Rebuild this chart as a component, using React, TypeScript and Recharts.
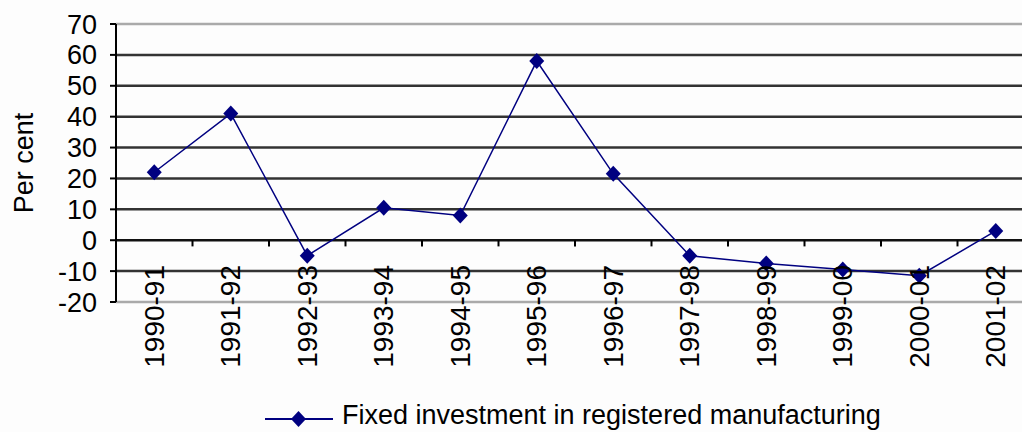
import React from 'react';
import { LineChart, Line, XAxis, YAxis, CartesianGrid, ReferenceLine, Legend } from 'recharts';

const categories = ['1990-91', '1991-92', '1992-93', '1993-94', '1994-95', '1995-96', '1996-97', '1997-98', '1998-99', '1999-00', '2000-01', '2001-02'];
const investment = [22, 41, -5, 10.5, 8, 58, 21.5, -5, -7.5, -9.5, -11.5, 3];
const yTicks = [-20, -10, 0, 10, 20, 30, 40, 50, 60, 70];
const innerGrid = [-10, 10, 20, 30, 40, 50, 60];
const seriesName = 'Fixed investment in registered manufacturing';

const data = categories.map((c, i) => ({ idx: i, name: c, value: investment[i] }));
const xTicks = categories.map((_, i) => i);
const boundaries = categories.slice(1).map((_, i) => i + 0.5);

const FONT = '"Liberation Sans", Arial, sans-serif';
const NAVY = '#000080';

const Diamond = (props: any) => {
  const { cx, cy } = props;
  if (cx == null || cy == null) return null;
  return <path d={`M${cx},${cy - 8}L${cx + 7.5},${cy}L${cx},${cy + 8}L${cx - 7.5},${cy}Z`} fill={NAVY} />;
};

const renderXTick = (props: any) => {
  const { x, y, payload } = props;
  const ty = y - 37;
  return (
    <text x={x} y={ty} transform={`rotate(-90, ${x}, ${ty})`} textAnchor="end" dominantBaseline="central"
      fontSize={28} fontFamily={FONT} fill="#000">
      {categories[payload.value]}
    </text>
  );
};

const YLabel = (props: any) => {
  const vb = props.viewBox || {};
  const cy = vb.y + vb.height / 2;
  return (
    <text x={33} y={cy} transform={`rotate(-90, 33, ${cy})`} textAnchor="middle" fontSize={27} fontFamily={FONT} fill="#000">
      Per cent
    </text>
  );
};

const LegendContent = () => (
  <svg width={660} height={32}>
    <line x1={5} y1={19} x2={73} y2={19} stroke={NAVY} strokeWidth={2} />
    <path d="M38.5,11L46,19L38.5,27L31,19Z" fill={NAVY} />
    <text x={82} y={24} fontSize={27} fontFamily={FONT} fill="#000">{seriesName}</text>
  </svg>
);

export default function App() {
  return (
    <div style={{ position: 'absolute', left: 0, top: 0, width: 1022, height: 432, overflow: 'hidden', background: '#fdfdfd' }}>
      <LineChart width={1040} height={432} data={data} margin={{ top: 24, right: 6, bottom: 100, left: 0 }}>
        <CartesianGrid vertical={false} horizontalValues={innerGrid} stroke="#333333" strokeWidth={2.5} />
        <ReferenceLine y={70} stroke="#aaaaaa" strokeWidth={2.5} />
        <ReferenceLine y={-20} stroke="#aaaaaa" strokeWidth={2.5} />
        <XAxis dataKey="idx" type="number" domain={[-0.5, 11.5]} ticks={xTicks} height={30}
          axisLine={false} tickLine={false} tickSize={0} tickMargin={0} tick={renderXTick} interval={0} />
        <YAxis width={116} domain={[-20, 70]} ticks={yTicks} interval={0}
          axisLine={{ stroke: '#000', strokeWidth: 2 }} tickLine={{ stroke: '#000', strokeWidth: 2 }} tickSize={6} tickMargin={13}
          tick={{ fontSize: 27, fontFamily: FONT, fill: '#000' }} label={<YLabel />} />
        <ReferenceLine y={0} stroke="#111" strokeWidth={2.5} />
        {boundaries.map((b) => (
          <ReferenceLine key={b} segment={[{ x: b, y: 0 }, { x: b, y: -2 }]} stroke="#000" strokeWidth={2} />
        ))}
        <Legend layout="horizontal" verticalAlign="middle" align="center" content={<LegendContent />}
          wrapperStyle={{ position: 'absolute', left: 260, top: 400, width: 660, height: 32 }} />
        <Line type="linear" dataKey="value" name={seriesName} stroke={NAVY} strokeWidth={1.5}
          dot={<Diamond />} activeDot={false} isAnimationActive={false} />
      </LineChart>
    </div>
  );
}
